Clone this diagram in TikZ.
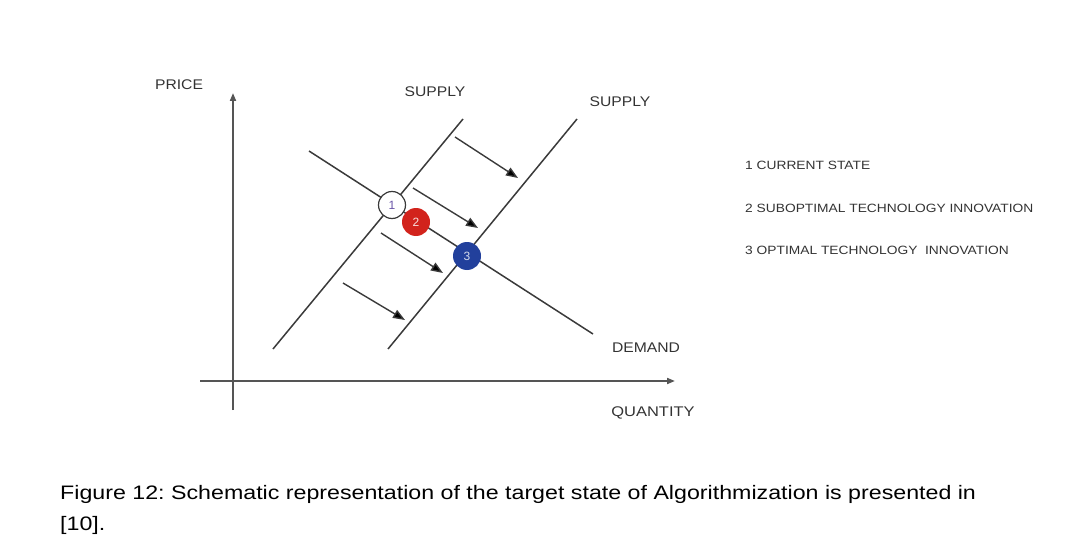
\documentclass[tikz,border=0pt]{standalone}
\usepackage{fontspec}
\setmainfont{Liberation Sans}
\usetikzlibrary{arrows.meta}
\definecolor{linegray}{HTML}{3A3A3A}
\definecolor{axisgray}{HTML}{555555}
\definecolor{labelgray}{HTML}{333333}
\definecolor{ptred}{HTML}{D2231C}
\definecolor{ptblue}{HTML}{22409C}
\definecolor{numpurple}{HTML}{6A55A8}
\tikzset{
  curve/.style={draw=linegray, line width=1.5pt},
  axis/.style={draw=axisgray, line width=1.8pt, -{Triangle[length=8pt,width=6pt]}},
  shiftarrow/.style={draw=linegray, line width=1.4pt, -{Triangle[length=12pt,width=9pt,fill=black]}},
  lbl/.style={text=labelgray, font=\fontsize{14}{16}\selectfont, inner sep=0pt, xscale=1.12},
  legend/.style={text=labelgray, font=\fontsize{12}{14}\selectfont, inner sep=0pt, anchor=base west, xscale=1.148},
  pt/.style={circle, minimum size=28pt, inner sep=0pt, font=\fontsize{12}{14}\selectfont},
  caption/.style={text=black, font=\fontsize{19.5}{22}\selectfont, inner sep=0pt, anchor=base west, xscale=1.19}
}
\frenchspacing
\begin{document}
\begin{tikzpicture}[x=1pt,y=-1pt]
\useasboundingbox (0,0) rectangle (1080,543);
% axes
\coordinate (yb) at (233,410);
\coordinate (yt) at (233,93);
\coordinate (xl) at (200,381);
\coordinate (xr) at (675,381);
\draw[axis] (yb) -- (yt);
\draw[axis] (xl) -- (xr);
% curves
\coordinate (s1b) at (273,349); \coordinate (s1t) at (463,119);
\coordinate (s2b) at (388,349); \coordinate (s2t) at (577,119);
\coordinate (dt) at (309,151); \coordinate (db) at (593,334);
\draw[curve] (s1b) -- (s1t);
\draw[curve] (s2b) -- (s2t);
\draw[curve] (dt) -- (db);
% shift arrows
\coordinate (a1s) at (455,137); \coordinate (a1e) at (518,178);
\coordinate (a2s) at (413,188); \coordinate (a2e) at (478,228);
\coordinate (a3s) at (381,233); \coordinate (a3e) at (443,273);
\coordinate (a4s) at (343,283); \coordinate (a4e) at (405,320);
\draw[shiftarrow] (a1s) -- (a1e);
\draw[shiftarrow] (a2s) -- (a2e);
\draw[shiftarrow] (a3s) -- (a3e);
\draw[shiftarrow] (a4s) -- (a4e);
% points
\node[pt, fill=white, draw=linegray, line width=1.2pt, minimum size=27pt, text=numpurple] (p1) at (392,205) {1};
\node[pt, fill=ptred, text=white!85!ptred] (p2) at (416,222) {2};
\node[pt, fill=ptblue, text=white!80!ptblue] (p3) at (467,256) {3};
% labels
\node[lbl] (price) at (179,85) {PRICE};
\node[lbl] (sup1) at (435,92) {SUPPLY};
\node[lbl] (sup2) at (620,102) {SUPPLY};
\node[lbl] (dem) at (646,348) {DEMAND};
\node[lbl, xscale=1.05] (qty) at (653,413) {QUANTITY};
% legend
\node[legend] (l1) at (745,169) {1 CURRENT STATE};
\node[legend] (l2) at (745,212) {2 SUBOPTIMAL TECHNOLOGY INNOVATION};
\node[legend] (l3) at (745,254) {3 OPTIMAL TECHNOLOGY\ \ INNOVATION};
% caption
\node[caption] (cap1) at (60,499) {Figure 12: Schematic representation of the target state of Algorithmization is presented in};
\node[caption] (cap2) at (60,530) {[10].};
\end{tikzpicture}
\end{document}
